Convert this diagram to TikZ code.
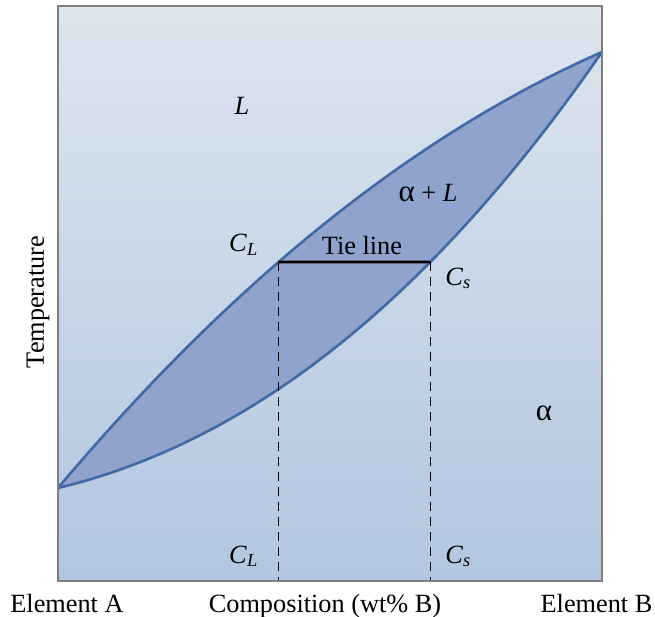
\documentclass[tikz,border=0pt]{standalone}
\usepackage{fontspec}
\setmainfont{Liberation Serif}
\usetikzlibrary{intersections}
\definecolor{bgtop}{HTML}{DDE5EE}
\definecolor{bgbot}{HTML}{B2C6E0}
\definecolor{lensfill}{HTML}{8FA3CC}
\definecolor{curvecol}{HTML}{4169A6}
\definecolor{framecol}{HTML}{7F7F7F}
\newcommand{\bigalpha}{{\fontsize{31}{30}\selectfont α}}
\begin{document}
\begin{tikzpicture}[x=1pt,y=-1pt,
  lbl/.style={font=\fontsize{26.3}{30}\selectfont, inner sep=0pt, anchor=base},
  phase/.style={draw=curvecol, line width=2.6pt},
  dropline/.style={dash pattern=on 9pt off 6pt, line width=1.4pt},
  tiestyle/.style={line width=2.8pt, black}]
\useasboundingbox (0,0) rectangle (655,617);
\shade[top color=bgtop,bottom color=bgbot] (58,6) rectangle (602,581);
\coordinate (A) at (58,488);
\coordinate (B) at (602,52);
\coordinate (base) at (0,581);
\fill[lensfill] (A) .. controls (239.3,272.9) and (420.7,131.9) .. (B)
  .. controls (420.7,313.6) and (239.3,444.4) .. (A) -- cycle;
\draw[phase, name path=liq] (A) .. controls (239.3,272.9) and (420.7,131.9) .. (B);
\draw[phase, name path=sol] (A) .. controls (239.3,444.4) and (420.7,313.6) .. (B);
\path[name path=tieh] (58,262) -- (602,262);
\path[name intersections={of=liq and tieh, by=cl}];
\path[name intersections={of=sol and tieh, by=cs}];
\draw[dropline] (cl) -- (cl |- base);
\draw[dropline] (cs) -- (cs |- base);
\draw[tiestyle] (cl) -- (cs);
\draw[framecol, line width=1.5pt] (58,6) rectangle (602,581);
\node[lbl] (lL) at (242,115) {\textit{L}};
\node[lbl] (lAL) at (428,202) {\bigalpha{} + \textit{L}};
\node[lbl] (lCL) at (243.5,252) {\textit{C}\textsubscript{\textit{L}}};
\node[lbl] (lTie) at (362,255) {Tie line};
\node[lbl] (lCs) at (458,285) {\textit{C}\textsubscript{\textit{s}}};
\node[lbl] (lAlpha) at (544,420) {\bigalpha};
\node[lbl] (lCLb) at (243.5,563) {\textit{C}\textsubscript{\textit{L}}};
\node[lbl] (lCsb) at (458,563) {\textit{C}\textsubscript{\textit{s}}};
\node[lbl, rotate=90, anchor=center] (lT) at (38,302) {Temperature};
\node[lbl] (lEA) at (67,612) {Element A};
\node[lbl] (lComp) at (325,612) {Composition (wt\% B)};
\node[lbl] (lEB) at (596.5,612) {Element B};
\end{tikzpicture}
\end{document}
